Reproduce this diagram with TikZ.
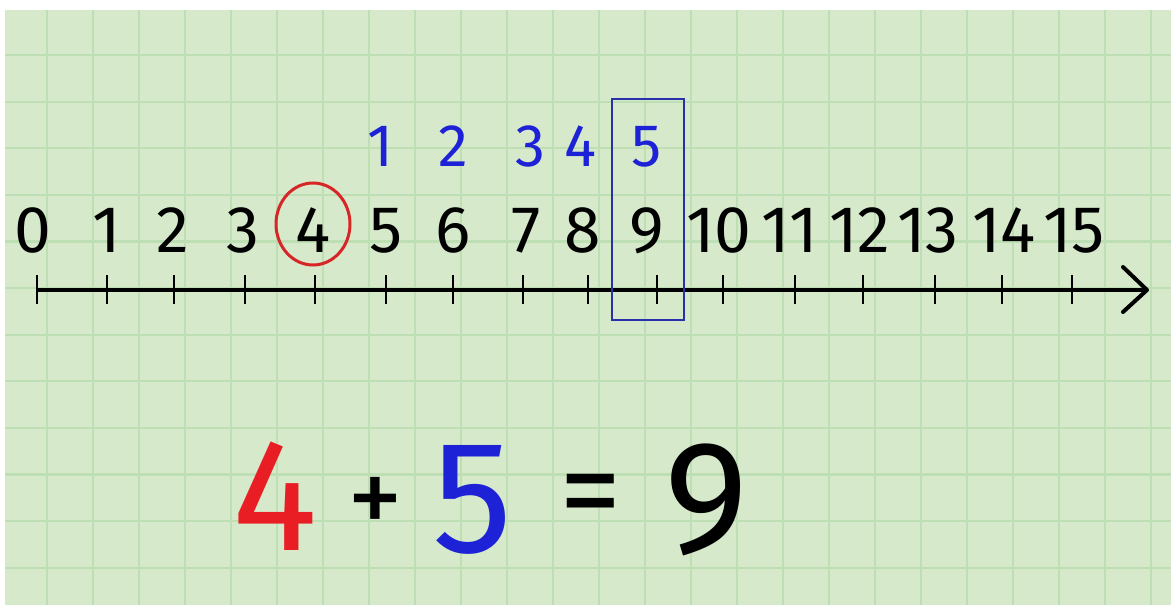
\documentclass[tikz,border=0pt]{standalone}
\usepackage{fontspec}
\setmainfont{Fira Sans}[Numbers=Proportional]
\definecolor{paper}{RGB}{214,234,203}
\definecolor{gridln}{RGB}{190,222,180}
\definecolor{redink}{RGB}{214,38,40}
\definecolor{blueink}{RGB}{30,34,214}
\definecolor{boxblue}{RGB}{40,48,170}
\definecolor{eqred}{RGB}{232,30,36}
\begin{document}
\begin{tikzpicture}[x=1pt,y=-1pt,
  numlab/.style={anchor=base,inner sep=0pt,font=\fontsize{66}{66}\selectfont,text=black},
  countlab/.style={anchor=base,inner sep=0pt,font=\fontsize{60}{60}\selectfont,text=blueink},
  eqlab/.style={anchor=base,inner sep=0pt,font=\fontsize{160}{160}\selectfont},
  tickln/.style={line width=2.6pt,black},
  axisln/.style={line width=4.5pt,black},
  gridline/.style={line width=2.2pt,gridln}]
\useasboundingbox (0,0) rectangle (1171,605);
\fill[white] (0,0) rectangle (1171,605);
\fill[paper] (5,10) rectangle (1171,605);
\begin{scope}
\clip (5,10) rectangle (1171,605);
\foreach \i in {0,...,25} \draw[gridline] ({1+46*\i},10) -- ({1+46*\i},605);
\foreach \j in {0,...,12} \draw[gridline] (5,{8.4+46.6*\j}) -- (1171,{8.4+46.6*\j});
\end{scope}
% axis
\coordinate (axstart) at (37,290);
\coordinate (axend) at (1147,290);
\draw[axisln] (axstart) -- (axend);
\draw[line width=4pt,line cap=round,line join=round] (1123,267) -- (axend) -- (1123,312);
% ticks and labels
\foreach \n/\tx/\lx in {0/37/33,1/107/107,2/174/173,3/245/243,4/315/313,5/386/386,6/453/453,7/523/526,8/588/583,9/657/647,10/723/719,11/795/790,12/863/860,13/935/928,14/1002/1004,15/1072/1074} {
  \draw[tickln] (\tx,275) -- (\tx,304);
  \node[numlab] (l\n) at (\lx,252) {\n};
}
% red circle around 4
\draw[redink,line width=3pt] (313,224) ellipse [x radius=37,y radius=41];
% blue counting labels
\foreach \c/\cx in {1/380,2/453,3/530,4/580,5/647} {
  \node[countlab] (c\c) at (\cx,166) {\c};
}
% blue box around 9
\coordinate (boxtl) at (612,99);
\coordinate (boxbr) at (684,320);
\draw[boxblue,line width=2.2pt] (boxtl) rectangle (boxbr);
% equation
\node[eqlab,text=eqred] (e4) at (275,550) {4};
\node[anchor=base,inner sep=0pt,font=\fontsize{112}{112}\selectfont,text=black] (eplus) at (375,535) {+};
\node[eqlab,text=blueink] (e5) at (473,552) {5};
\node[anchor=base,inner sep=0pt,font=\fontsize{125}{125}\selectfont,text=black] (eeq) at (591,532) {=};
\node[eqlab,text=black] (e9) at (706,552) {9};
\end{tikzpicture}
\end{document}
